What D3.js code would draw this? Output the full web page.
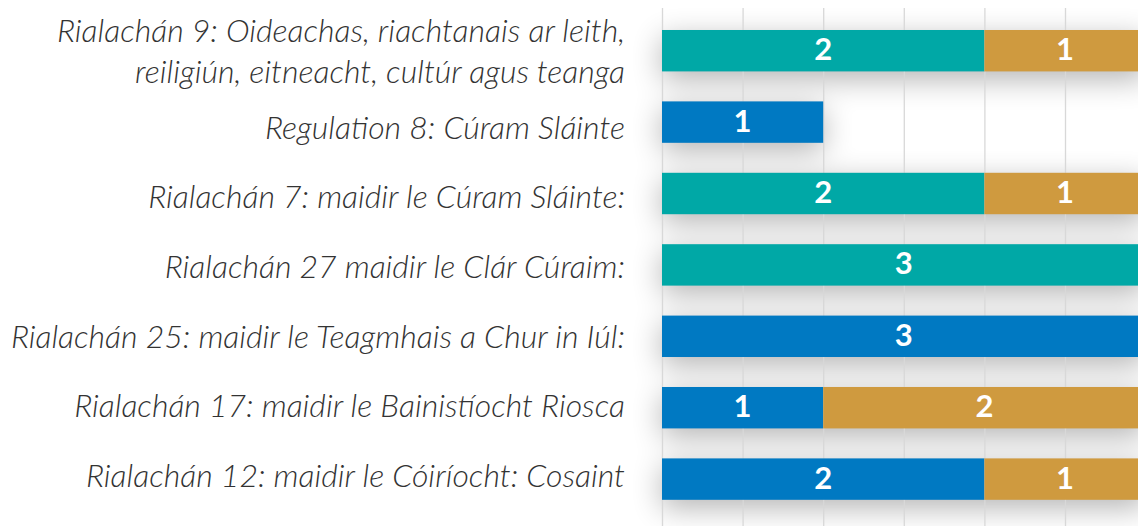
<!DOCTYPE html>
<html>
<head>
<meta charset="utf-8">
<script src="https://cdn.jsdelivr.net/npm/d3@7"></script>
<style>
  html, body { margin: 0; padding: 0; background: #fff; overflow: hidden; }
  .label { font-family: Lato, "Open Sans", sans-serif; font-weight: 300; font-style: italic; font-size: 32px; fill: #333; }
  .value { font-family: Lato, "Open Sans", sans-serif; font-weight: 700; font-size: 31px; fill: #fff; }
  .grid line { stroke: #d8d8d8; stroke-width: 1.3; }
</style>
</head>
<body>
<script>
// chart values
const categories = [
  ['Rialachán 9: Oideachas, riachtanais ar leith,', 'reiligiún, eitneacht, cultúr agus teanga'],
  ['Regulation 8: Cúram Sláinte'],
  ['Rialachán 7: maidir le Cúram Sláinte:'],
  ['Rialachán 27 maidir le Clár Cúraim:'],
  ['Rialachán 25: maidir le Teagmhais a Chur in Iúl:'],
  ['Rialachán 17: maidir le Bainistíocht Riosca'],
  ['Rialachán 12: maidir le Cóiríocht: Cosaint']
];
const seriesKeys = ['teal', 'blue', 'gold'];
const tealValues = [2, 0, 2, 3, 0, 0, 0];
const blueValues = [0, 1, 0, 0, 3, 1, 2];
const goldValues = [1, 0, 1, 0, 0, 2, 1];
const seriesColors = ['#00a8a6', '#0079c2', '#cf9a3f'];
const gridTicks = [0, 0.5, 1, 1.5, 2, 2.5, 3];

const chartW = 1138, chartH = 526;
const plotLeft = 662, plotTop = 15;

const rows = categories.map((c, i) => ({
  id: i, lines: c, teal: tealValues[i], blue: blueValues[i], gold: goldValues[i]
}));

const svg = d3.select('body').append('svg')
  .attr('width', chartW)
  .attr('height', chartH);

// soft grey haze under each bar
const defs = svg.append('defs');
const shadow = defs.append('filter')
  .attr('id', 'shadow')
  .attr('filterUnits', 'userSpaceOnUse')
  .attr('x', 560).attr('y', 0)
  .attr('width', 700).attr('height', chartH);
shadow.append('feGaussianBlur')
  .attr('in', 'SourceAlpha')
  .attr('stdDeviation', 15)
  .attr('result', 'blur');
shadow.append('feOffset')
  .attr('in', 'blur')
  .attr('dy', 8)
  .attr('result', 'off');
shadow.append('feComponentTransfer')
  .attr('in', 'off')
  .append('feFuncA')
  .attr('type', 'linear')
  .attr('slope', 0.3);

const x = d3.scaleLinear().domain([0, 3]).range([plotLeft, plotLeft + 483.6]);
const y = d3.scaleBand()
  .domain(rows.map(d => d.id))
  .range([plotTop, plotTop + 7 * 71.4])
  .paddingInner(0.42)
  .paddingOuter(0.21);
// the labels sit on their own, slightly tighter rhythm
const labelY = d3.scaleLinear().domain([1, 6]).range([138.5, 487]);

const color = d3.scaleOrdinal().domain(seriesKeys).range(seriesColors);
const stacked = d3.stack().keys(seriesKeys)(rows);

// shadows first, under the grid
svg.append('g')
  .attr('filter', 'url(#shadow)')
  .selectAll('rect')
  .data(rows)
  .join('rect')
  .attr('x', x(0))
  .attr('y', d => y(d.id))
  .attr('width', d => x(d.teal + d.blue + d.gold) - x(0))
  .attr('height', y.bandwidth())
  .attr('fill', '#000');

svg.append('g')
  .attr('class', 'grid')
  .selectAll('line')
  .data(gridTicks)
  .join('line')
  .attr('x1', d => x(d) + 0.5)
  .attr('x2', d => x(d) + 0.5)
  .attr('y1', 8)
  .attr('y2', chartH);

const layers = svg.append('g')
  .selectAll('g')
  .data(stacked)
  .join('g')
  .attr('fill', d => color(d.key));

layers.selectAll('rect')
  .data(d => d.filter(s => s[1] > s[0]))
  .join('rect')
  .attr('x', d => x(d[0]))
  .attr('y', d => y(d.data.id))
  .attr('width', d => x(d[1]) - x(d[0]))
  .attr('height', y.bandwidth());

layers.selectAll('text')
  .data(d => d.filter(s => s[1] > s[0]))
  .join('text')
  .attr('class', 'value')
  .attr('x', d => (x(d[0]) + x(d[1])) / 2)
  .attr('y', d => y(d.data.id) + y.bandwidth() / 2 + 9.5)
  .attr('text-anchor', 'middle')
  .text(d => d[1] - d[0]);

// category labels on the left
const labels = svg.append('g')
  .selectAll('text')
  .data(rows)
  .join('text')
  .attr('class', 'label')
  .attr('text-anchor', 'end')
  .attr('x', 625)
  .attr('y', d => d.lines.length > 1 ? labelY(d.id) - 27 : labelY(d.id));

labels.selectAll('tspan')
  .data(d => d.lines)
  .join('tspan')
  .attr('x', 625)
  .attr('dy', (d, i) => i === 0 ? 0 : 41.5)
  .text(d => d);
</script>
</body>
</html>
